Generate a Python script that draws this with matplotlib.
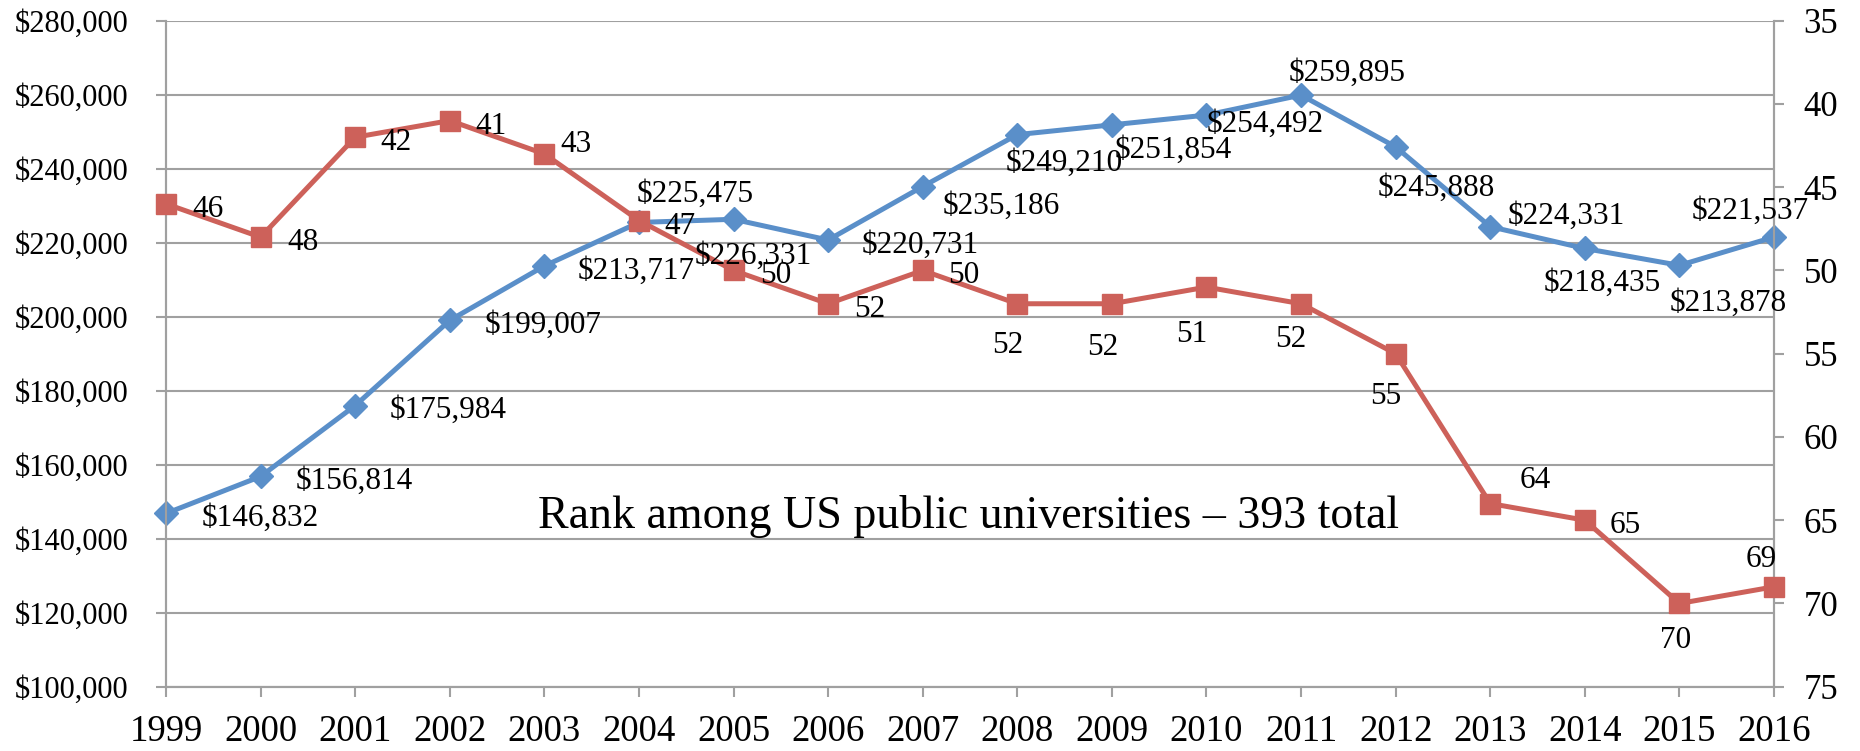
import matplotlib
matplotlib.use('Agg')
import matplotlib.pyplot as plt
from matplotlib.ticker import FuncFormatter

years = list(range(1999, 2017))
expend = [146832, 156814, 175984, 199007, 213717, 225475, 226331, 220731, 235186,
          249210, 251854, 254492, 259895, 245888, 224331, 218435, 213878, 221537]
ranks = [46, 48, 42, 41, 43, 47, 50, 52, 50, 52, 52, 51, 52, 55, 64, 65, 70, 69]
left_ticks = list(range(100000, 280001, 20000))
right_ticks = list(range(35, 76, 5))
note = "Rank among US public universities \u2013 393 total"

# label placement (pixels): dx to label centre, dy downward to digit centre
blue_off = [(94, 2), (94, 2.5), (93, 2), (93, 2), (92, 3), (56, -31), (20, 35), (92, 2.5),
            (79, 17.5), (47, 26), (61, 23), (59, 7), (46, -24), (41, 39), (76, -13),
            (17, 32.5), (49, 35.5), (-24, -28)]
red_off = [(42, 3), (42, 3), (41, 3), (41, 3.5), (32, -12), (41, 3), (42.6, 3), (42, 3),
           (41, 3), (-10, 39), (-9, 41), (-15, 44.6), (-10, 33), (-10, 40), (45.5, -25.6),
           (40, 3), (-4, 35), (-13, -30)]

plt.rcParams['font.family'] = ['Liberation Serif', 'DejaVu Serif']
BLUE = '#5A8FC9'
RED = '#CD615A'
GRID = '#A0A0A0'

fig = plt.figure(figsize=(18.6, 7.51), dpi=100)
ax = fig.add_axes([166 / 1860, 64.3 / 751, 1608 / 1860, 666 / 751])
ax2 = ax.twinx()

ax.set_xlim(1999, 2016)
ax.set_ylim(100000, 280000)
ax2.set_ylim(75, 35)

ax.set_yticks(left_ticks)
ax.yaxis.set_major_formatter(FuncFormatter(lambda v, p: f"${int(v):,}"))
ax.set_xticks(years)
ax.set_xticklabels([str(y) for y in years])
ax2.set_yticks(right_ticks)

ax.yaxis.grid(True, color=GRID, linewidth=1.5)
ax.set_axisbelow(True)
for a in (ax, ax2):
    for s in a.spines.values():
        s.set_color(GRID)
        s.set_linewidth(1.5)
    a.spines['top'].set_visible(False)
ax.tick_params(axis='y', length=7.2, width=1.5, color=GRID, labelsize=22, pad=20)
ax.tick_params(axis='x', length=7.2, width=1.5, color=GRID, labelsize=26.5, pad=13)
ax2.tick_params(axis='y', length=7.2, width=1.5, color=GRID, labelsize=25, pad=14)

ax.plot(years, expend, color=BLUE, linewidth=3.6, marker='D', markersize=12,
        clip_on=False, zorder=3)
ax2.plot(years, ranks, color=RED, linewidth=3.6, marker='s', markersize=14,
         clip_on=False, zorder=3)

for x, v, (dx, dy) in zip(years, expend, blue_off):
    ax2.annotate(f"${v:,}", xy=(x, v), xycoords=ax.transData, xytext=(dx, -(dy + 10)),
                 textcoords='offset pixels', ha='center', va='baseline', fontsize=22.5,
                 annotation_clip=False, zorder=5)
for x, r, (dx, dy) in zip(years, ranks, red_off):
    ax2.annotate(f"{r}", xy=(x, r), xycoords='data', xytext=(dx, -(dy + 10)),
                 textcoords='offset pixels', ha='center', va='baseline', fontsize=22.5,
                 annotation_clip=False, zorder=5)

fig.text(968 / 1860, (751 - 528) / 751, note, ha='center', va='baseline', fontsize=33)

fig.savefig('out.png', dpi=100)
